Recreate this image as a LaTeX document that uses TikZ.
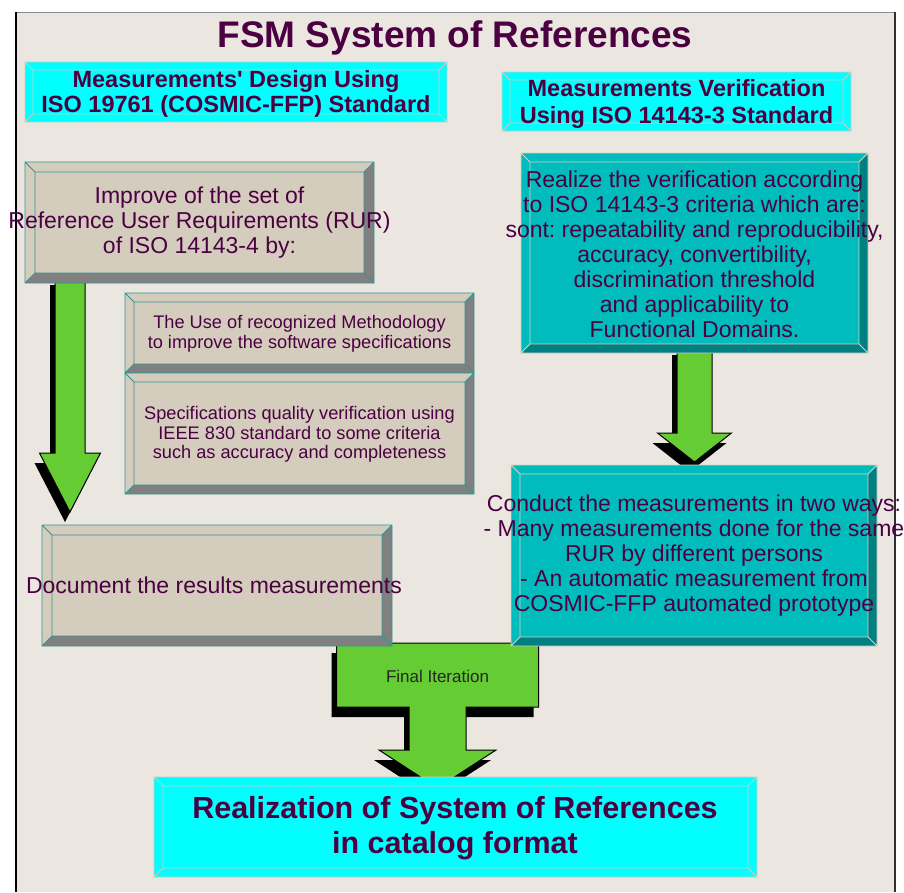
\documentclass[tikz,border=0pt]{standalone}
\usepackage{fontspec}
\setmainfont{Liberation Sans}[Ligatures=TeXOff]
\usetikzlibrary{calc}
\pgfdeclarelayer{framelayer}
\pgfdeclarelayer{arrowlayer}
\pgfsetlayers{framelayer,arrowlayer,main}
\frenchspacing

\definecolor{framebg}{HTML}{EBE7E0}
\definecolor{framegray}{HTML}{8A8A8A}
\definecolor{framedark}{HTML}{303030}
\definecolor{txtc}{HTML}{4B0042}
\definecolor{cyanf}{HTML}{00FFFF}
\definecolor{cyanline}{HTML}{CFCBC0}
\definecolor{tanf}{HTML}{D4CCBC}
\definecolor{tandark}{HTML}{808080}
\definecolor{tanline}{HTML}{2E9696}
\definecolor{tealf}{HTML}{00BCBC}
\definecolor{tealdark}{HTML}{008080}
\definecolor{tealline}{HTML}{D6D2C4}
\definecolor{agreen}{HTML}{66CC33}

% bevelled box drawn on the named node #1
% #2 bevel width, #3 face, #4 top/left bevel, #5 bottom/right bevel, #6 line colour
\newcommand\bevel[6]{%
  \fill[#4] (#1.north west) -- (#1.north east) -- ($(#1.north east)+(-#2,#2)$) -- ($(#1.north west)+(#2,#2)$) -- cycle;
  \fill[#4] (#1.north west) -- ($(#1.north west)+(#2,#2)$) -- ($(#1.south west)+(#2,-#2)$) -- (#1.south west) -- cycle;
  \fill[#5] (#1.north east) -- (#1.south east) -- ($(#1.south east)+(-#2,-#2)$) -- ($(#1.north east)+(-#2,#2)$) -- cycle;
  \fill[#5] (#1.south west) -- ($(#1.south west)+(#2,-#2)$) -- ($(#1.south east)+(-#2,-#2)$) -- (#1.south east) -- cycle;
  \fill[#3] ($(#1.north west)+(#2,#2)$) rectangle ($(#1.south east)+(-#2,-#2)$);
  \draw[#6, line width=0.8pt] (#1.north west) rectangle (#1.south east)
    ($(#1.north west)+(#2,#2)$) rectangle ($(#1.south east)+(-#2,-#2)$)
    (#1.north west) -- ($(#1.north west)+(#2,#2)$)
    (#1.north east) -- ($(#1.north east)+(-#2,#2)$)
    (#1.south east) -- ($(#1.south east)+(-#2,-#2)$)
    (#1.south west) -- ($(#1.south west)+(#2,-#2)$);
}

% block arrow from coordinate #1 (top centre) to #2 (tip)
% #3 shaft half width, #4 head half width, #5 head length, #6 top half width, #7 top height
% #8 style, #9 offset (dx = #9, dy = 2*#9, canvas)
\newcommand\arrowpoly[9]{%
  \path[#8] let \p1=(#1), \p2=(#2) in
    ({\x1-#6pt+(#9pt)},{\y1+2*(#9pt)})
    -- ({\x1+#6pt+(#9pt)},{\y1+2*(#9pt)})
    -- ({\x1+#6pt+(#9pt)},{\y1-#7pt+2*(#9pt)})
    -- ({\x1+#3pt+(#9pt)},{\y1-#7pt+2*(#9pt)})
    -- ({\x1+#3pt+(#9pt)},{\y2+#5pt+2*(#9pt)})
    -- ({\x1+#4pt+(#9pt)},{\y2+#5pt+2*(#9pt)})
    -- ({\x2+(#9pt)},{\y2+2*(#9pt)})
    -- ({\x1-#4pt+(#9pt)},{\y2+#5pt+2*(#9pt)})
    -- ({\x1-#3pt+(#9pt)},{\y2+#5pt+2*(#9pt)})
    -- ({\x1-#3pt+(#9pt)},{\y1-#7pt+2*(#9pt)})
    -- ({\x1-#6pt+(#9pt)},{\y1-#7pt+2*(#9pt)})
    -- cycle;}
\newcommand\blockarrow[7]{%
  \arrowpoly{#1}{#2}{#3}{#4}{#5}{#6}{#7}{arrowshadow}{-5}%
  \arrowpoly{#1}{#2}{#3}{#4}{#5}{#6}{#7}{arrowbody}{0}}

\begin{document}
\begin{tikzpicture}[x=1pt,y=-1pt,
  boxnode/.style={inner sep=0pt, outer sep=0pt, draw=none},
  txt/.style={text=txtc, align=center, inner sep=0pt, font=\fontsize{23}{25}\selectfont},
  smalltxt/.style={text=txtc, align=center, inner sep=0pt, font=\fontsize{18.2}{19.5}\selectfont},
  headtxt/.style={text=txtc, align=center, inner sep=0pt, font=\fontsize{23.5}{25}\selectfont\bfseries},
  titletxt/.style={text=txtc, inner sep=0pt, font=\fontsize{37}{40}\selectfont\bfseries},
  fintxt/.style={text=txtc, align=center, inner sep=0pt, font=\fontsize{30.5}{35}\selectfont\bfseries},
  labeltxt/.style={text=black!85, inner sep=0pt, font=\fontsize{17}{19}\selectfont},
  arrowshadow/.style={fill=black},
  arrowbody/.style={fill=agreen, draw=black, line width=1pt, line join=miter}]
\useasboundingbox (0,0) rectangle (904,892);

\begin{pgfonlayer}{framelayer}
  \fill[white] (0,0) rectangle (904,892);
  \fill[framebg] (15,12) rectangle (896,892);
  \draw[framegray, line width=1pt] (15,12.5) -- (896,12.5);
  \draw[black, line width=1.6pt] (15.8,12) -- (15.8,892);
  \draw[framedark, line width=1.6pt] (895.2,12) -- (895.2,892);
\end{pgfonlayer}

% title
\node[titletxt, anchor=base] (title) at (455,47) {FSM System of References};

% headers
\node[boxnode, minimum width=422, minimum height=60] (h1) at (236,92) {};
\bevel{h1}{8}{cyanf}{cyanf}{cyanf}{cyanline}
\node[headtxt] (h1t) at (236,94) {Measurements' Design Using\\ISO 19761 (COSMIC-FFP) Standard};

\node[boxnode, minimum width=349, minimum height=59] (h2) at (676.5,101.5) {};
\bevel{h2}{8}{cyanf}{cyanf}{cyanf}{cyanline}
\node[headtxt, font=\fontsize{23.5}{27}\selectfont\bfseries] (h2t) at (676.5,104) {Measurements Verification\\Using ISO 14143-3 Standard};

% left column
\node[boxnode, minimum width=349, minimum height=121] (b1) at (199.5,222.5) {};
\bevel{b1}{10}{tanf}{tanf}{tandark}{tanline}
\node[txt] (b1t) at (199.5,223) {Improve of the set of\\Reference User Requirements (RUR)\\of ISO 14143-4 by:};

\node[boxnode, minimum width=349, minimum height=80] (s1) at (299.5,333) {};
\bevel{s1}{9}{tanf}{tanf}{tandark}{tanline}
\node[smalltxt] (s1t) at (299.5,334) {The Use of recognized Methodology\\to improve the software specifications};

\node[boxnode, minimum width=349, minimum height=121] (s2) at (299.5,433.5) {};
\bevel{s2}{9}{tanf}{tanf}{tandark}{tanline}
\node[smalltxt] (s2t) at (299.5,434.5) {Specifications quality verification using\\IEEE 830 standard to some criteria\\such as accuracy and completeness};

\node[boxnode, minimum width=350, minimum height=121] (doc) at (217,585.5) {};
\bevel{doc}{10}{tanf}{tanf}{tandark}{tanline}
\node[txt] (doct) at (214,585) {Document the results measurements};

% right column
\node[boxnode, minimum width=347, minimum height=200] (r1) at (694.5,253) {};
\bevel{r1}{9}{tealf}{tealf}{tealdark}{tealline}
\node[txt] (r1t) at (694.5,254) {Realize the verification according\\to ISO 14143-3 criteria which are:\\sont: repeatability and reproducibility,\\accuracy, convertibility,\\discrimination threshold\\and applicability to\\Functional Domains.};

\node[boxnode, minimum width=366, minimum height=181] (r2) at (694,555.5) {};
\bevel{r2}{9}{tealf}{tealf}{tealdark}{tealline}
\node[txt] (r2t) at (694,556) {Conduct the measurements in two ways:\\- Many measurements done for the same\\RUR by different persons\\- An automatic measurement from\\COSMIC-FFP automated prototype};

% final box
\node[boxnode, minimum width=603, minimum height=100] (fin) at (455.5,827) {};
\bevel{fin}{9}{cyanf}{cyanf}{cyanf}{cyanline}
\node[fintxt] (fint) at (455,828) {Realization of System of References\\in catalog format};

% connector end points
\coordinate (a1s) at ($(b1.south west)+(45,-8)$);
\coordinate (a1e) at ($(doc.north west)+(28,-13)$);
\coordinate (a2s) at ($(r1.south)+(0,-8)$);
\coordinate (a2e) at ($(r2.north)+(0.5,-3)$);
\coordinate (a3s) at ($(fin.north)+(-18,-134)$);
\coordinate (a3e) at ($(fin.north)+(-18,11)$);

\begin{pgfonlayer}{arrowlayer}
  \blockarrow{a1s}{a1e}{15}{30.5}{59}{15}{0}
  \blockarrow{a2s}{a2e}{17.5}{37}{29}{17.5}{0}
  \blockarrow{a3s}{a3e}{28.5}{58.5}{38}{101}{64}
\end{pgfonlayer}
\node[labeltxt, anchor=base] (fitxt) at ($(a3s)+(0,39)$) {Final Iteration};

\end{tikzpicture}
\end{document}
